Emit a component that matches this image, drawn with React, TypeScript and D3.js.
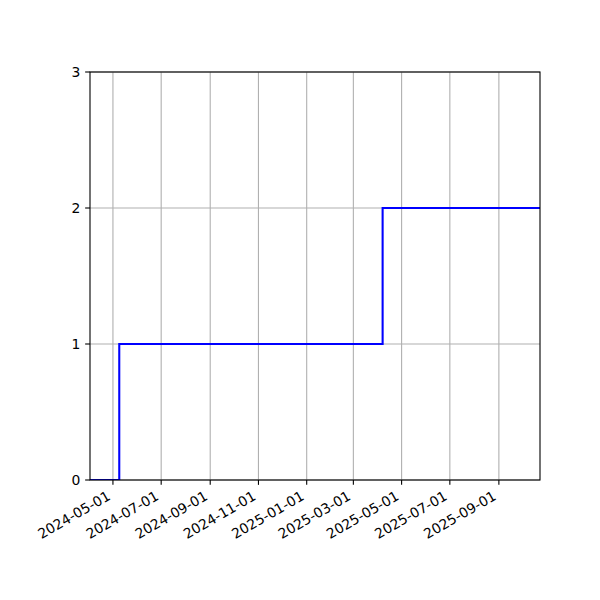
import React, { useRef, useEffect } from "react";
import * as d3 from "d3";

// step series (value holds until the next date)
const stepDates = ["2024-04-02", "2024-05-09", "2025-04-07", "2025-10-23"];
const stepValues = [0, 1, 2, 2];

const xTickDates = [
  "2024-05-01",
  "2024-07-01",
  "2024-09-01",
  "2024-11-01",
  "2025-01-01",
  "2025-03-01",
  "2025-05-01",
  "2025-07-01",
  "2025-09-01",
];
const yTicks = [0, 1, 2, 3];

const parse = d3.utcParse("%Y-%m-%d");

export default function App() {
  const chartRef = useRef<SVGSVGElement>(null);

  useEffect(() => {
    document.body.style.margin = "0";
    const svg = d3.select(chartRef.current);
    svg.selectAll("*").remove();

    const width = 600;
    const height = 600;
    const margin = { top: 72, right: 60, bottom: 120, left: 90 };
    const innerWidth = width - margin.left - margin.right;
    const innerHeight = height - margin.top - margin.bottom;

    const data = stepDates.map((d, i) => ({
      date: parse(d) as Date,
      value: stepValues[i],
    }));

    const xScale = d3
      .scaleUtc()
      .domain(d3.extent(data, (d) => d.date) as [Date, Date])
      .range([0, innerWidth]);

    const yScale = d3.scaleLinear().domain([0, 3]).range([innerHeight, 0]);

    const fontSize = 13.9;
    const tickLen = 4.86;
    const pad = 4.86;

    svg.attr("width", width).attr("height", height);

    const g = svg
      .append("g")
      .attr("transform", `translate(${margin.left},${margin.top})`);

    g.append("defs")
      .append("clipPath")
      .attr("id", "plot-clip")
      .append("rect")
      .attr("width", innerWidth)
      .attr("height", innerHeight);

    const xTicks = xTickDates.map((d) => parse(d) as Date);

    // grid
    g.selectAll(".xgrid")
      .data(xTicks)
      .enter()
      .append("line")
      .attr("x1", (d) => xScale(d))
      .attr("x2", (d) => xScale(d))
      .attr("y1", 0)
      .attr("y2", innerHeight)
      .attr("stroke", "#b0b0b0")
      .attr("stroke-width", 1.1);

    g.selectAll(".ygrid")
      .data(yTicks)
      .enter()
      .append("line")
      .attr("x1", 0)
      .attr("x2", innerWidth)
      .attr("y1", (d) => yScale(d))
      .attr("y2", (d) => yScale(d))
      .attr("stroke", "#b0b0b0")
      .attr("stroke-width", 1.1);

    const line = d3
      .line<{ date: Date; value: number }>()
      .x((d) => xScale(d.date))
      .y((d) => yScale(d.value))
      .curve(d3.curveStepAfter);

    g.append("path")
      .datum(data)
      .attr("d", line)
      .attr("fill", "none")
      .attr("stroke", "#0000ff")
      .attr("stroke-width", 2.08)
      .attr("clip-path", "url(#plot-clip)");

    // frame
    g.append("rect")
      .attr("width", innerWidth)
      .attr("height", innerHeight)
      .attr("fill", "none")
      .attr("stroke", "black")
      .attr("stroke-width", 1.1);

    // x ticks + rotated labels
    const xt = g
      .selectAll(".xtick")
      .data(xTicks)
      .enter()
      .append("g")
      .attr("transform", (d) => `translate(${xScale(d)},${innerHeight})`);
    xt.append("line")
      .attr("y2", tickLen)
      .attr("stroke", "black")
      .attr("stroke-width", 1.1);
    xt.append("text")
      .attr(
        "transform",
        `translate(${-0.5 * 3.2},${tickLen + pad + 0.866 * 10.6}) rotate(-30)`
      )
      .attr("text-anchor", "end")
      .attr("font-family", "DejaVu Sans")
      .attr("font-size", fontSize)
      .attr("fill", "black")
      .text((d) => d3.utcFormat("%Y-%m-%d")(d));

    // y ticks
    const yt = g
      .selectAll(".ytick")
      .data(yTicks)
      .enter()
      .append("g")
      .attr("transform", (d) => `translate(0,${yScale(d)})`);
    yt.append("line")
      .attr("x2", -tickLen)
      .attr("stroke", "black")
      .attr("stroke-width", 1.1);
    yt.append("text")
      .attr("x", -tickLen - pad)
      .attr("dy", "0.35em")
      .attr("text-anchor", "end")
      .attr("font-family", "DejaVu Sans")
      .attr("font-size", fontSize)
      .attr("fill", "black")
      .text((d) => String(d));
  }, []);

  return (
    <div style={{ width: 600, height: 600, background: "white" }}>
      <svg ref={chartRef} style={{ display: "block" }}></svg>
    </div>
  );
}
